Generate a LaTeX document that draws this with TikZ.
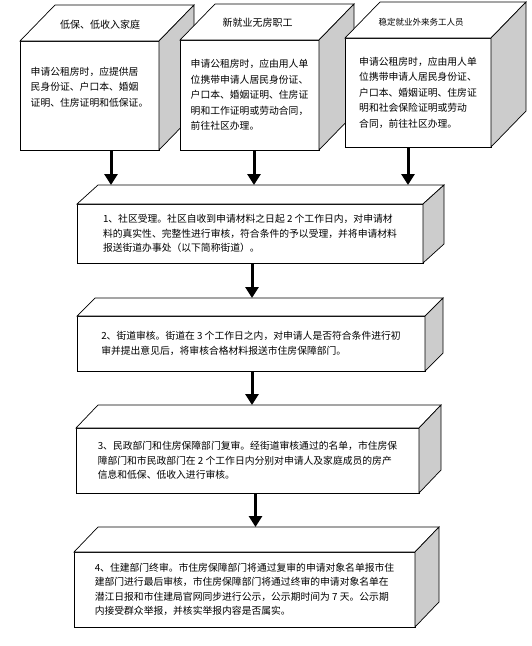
\documentclass[tikz,border=0pt]{standalone}
\usepackage{fontspec}
\newfontfamily\cjk{Noto Sans CJK SC}
\usetikzlibrary{arrows.meta, calc}
\tikzset{
  edge/.style={draw=black, line width=0.7pt},
  face/.style={edge, fill=white, rectangle, inner sep=0pt, outer sep=0pt, align=left},
  topbox/.style={face, font=\cjk\fontsize{9.8}{15.5}\selectfont},
  stepbox/.style={face, font=\cjk\fontsize{9.8}{14.5}\selectfont},
  boxtitle/.style={font=\cjk\fontsize{10}{12}\selectfont},
  flow/.style={line width=3pt, -{Triangle[width=13pt,length=11pt]}},
}
% top and right faces of a box, #1 front node, #2 depth x, #3 depth y
\newcommand\cubefaces[3]{%
  \draw[edge, fill=white] (#1.north west) -- ++(#2,-#3) -- ([shift={(#2,-#3)}]#1.north east) -- (#1.north east) -- cycle;
  \draw[edge, fill=gray!40] (#1.north east) -- ++(#2,-#3) -- ([shift={(#2,-#3)}]#1.south east) -- (#1.south east) -- cycle;
  \coordinate (#1-top) at ([shift={(0,-#3)}]#1.north);
}
\begin{document}
\begin{tikzpicture}[x=1pt, y=-1pt]
  \useasboundingbox (0,0) rectangle (532,646);
  % three groups of applicants
  \node[topbox, minimum width=139pt, minimum height=109pt, text depth=18pt] (A) at (89.5,95.5)
    {申请公租房时，应提供居\\民身份证、户口本、婚姻\\证明、住房证明和低保证。};
  \cubefaces{A}{35}{36}
  \node[boxtitle] (Atitle) at (100,25) {低保、低收入家庭};
  \node[topbox, minimum width=139pt, minimum height=110pt] (B) at (249.5,95)
    {申请公租房时，应由用人单\\位携带申请人居民身份证、\\户口本、婚姻证明、住房证\\明和工作证明或劳动合同，\\前往社区办理。};
  \cubefaces{B}{35}{36}
  \node[boxtitle] (Btitle) at (257.5,23) {新就业无房职工};
  \node[topbox, minimum width=146pt, minimum height=109pt] (C) at (418,92.5)
    {申请公租房时，应由用人单\\位携带申请人居民身份证、\\户口本、婚姻证明、住房证\\明和社会保险证明或劳动\\合同，前往社区办理。};
  \cubefaces{C}{35}{36}
  \node[boxtitle, font=\cjk\fontsize{8.5}{10}\selectfont] (Ctitle) at (421,22) {稳定就业外来务工人员};
  % four steps
  \node[stepbox, minimum width=346pt, minimum height=59pt] (s1) at (250,233.5)
    {1、社区受理。社区自收到申请材料之日起 2 个工作日内，对申请材\\料的真实性、完整性进行审核，符合条件的予以受理，并将申请材料\\报送街道办事处（以下简称街道）。};
  \cubefaces{s1}{21}{19}
  \node[stepbox, minimum width=348pt, minimum height=55pt] (s2) at (251,343.5)
    {2、街道审核。街道在 3 个工作日之内，对申请人是否符合条件进行初\\审并提出意见后，将审核合格材料报送市住房保障部门。};
  \cubefaces{s2}{18}{18}
  \node[stepbox, minimum width=343pt, minimum height=65pt] (s3) at (247.5,460.5)
    {3、民政部门和住房保障部门复审。经街道审核通过的名单，市住房保\\障部门和市民政部门在 2 个工作日内分别对申请人及家庭成员的房产\\信息和低保、低收入进行审核。};
  \cubefaces{s3}{22}{23}
  \node[stepbox, minimum width=341pt, minimum height=75pt] (s4) at (244.5,589.5)
    {4、住建部门终审。市住房保障部门将通过复审的申请对象名单报市住\\建部门进行最后审核，市住房保障部门将通过终审的申请对象名单在\\潜江日报和市住建局官网同步进行公示，公示期时间为 7 天。公示期\\内接受群众举报，并核实举报内容是否属实。};
  \cubefaces{s4}{24}{25}
  % arrows
  \draw[flow] ([xshift=21.5pt]A.south) -- ([xshift=21.5pt]A.south |- s1-top);
  \draw[flow] ([xshift=4.5pt]B.south) -- ([xshift=4.5pt]B.south |- s1-top);
  \draw[flow] ([xshift=-10pt]C.south) -- ([xshift=-10pt]C.south |- s1-top);
  \draw[flow] ([xshift=2pt]s1.south) -- ([xshift=2pt]s1.south |- s2-top);
  \draw[flow] ([xshift=1pt]s2.south) -- ([xshift=1pt]s2.south |- s3-top);
  \draw[flow] ([xshift=8pt]s3.south) -- ([xshift=8pt]s3.south |- s4-top);
\end{tikzpicture}
\end{document}
